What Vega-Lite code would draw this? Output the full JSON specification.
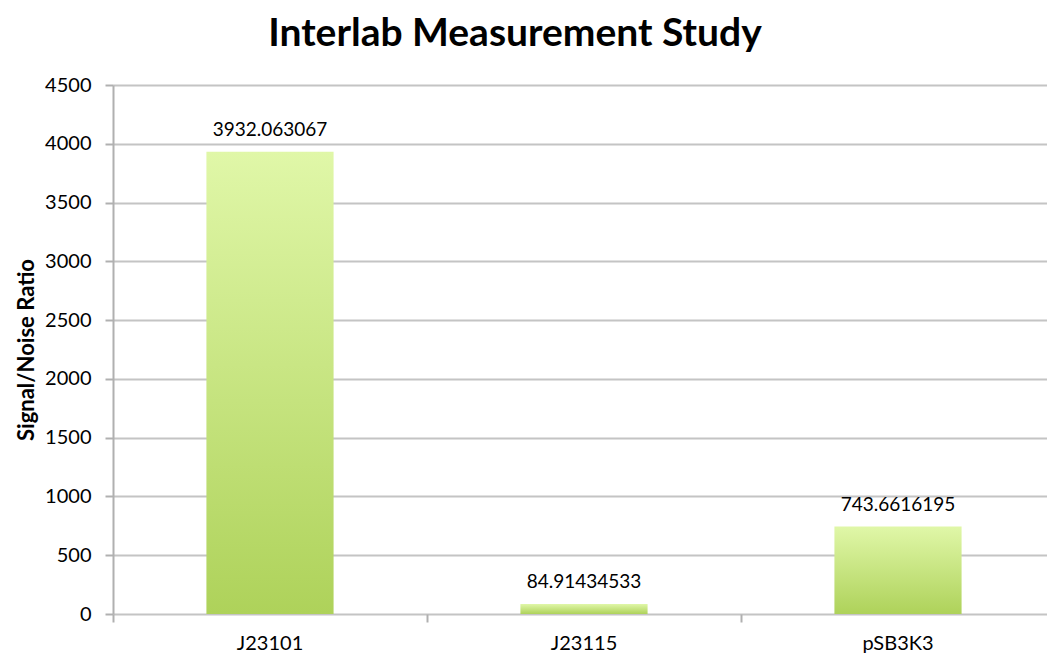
{
  "$schema": "https://vega.github.io/schema/vega-lite/v6.json",
  "autosize": "none",
  "width": 942,
  "height": 529,
  "padding": {"left": 113, "top": 85, "right": 0, "bottom": 47},
  "background": "white",
  "title": {
    "text": "Interlab Measurement Study",
    "font": "Lato",
    "fontSize": 39,
    "fontWeight": "bold",
    "color": "#000000",
    "anchor": "middle",
    "dx": -69,
    "offset": 21
  },
  "data": {
    "values": [
      {"construct": "J23101", "ratio": 3932.063067, "label": "3932.063067"},
      {"construct": "J23115", "ratio": 84.91434533, "label": "84.91434533"},
      {"construct": "pSB3K3", "ratio": 743.6616195, "label": "743.6616195"}
    ]
  },
  "config": {
    "view": {"stroke": null},
    "font": "Lato"
  },
  "encoding": {
    "x": {
      "field": "construct",
      "type": "nominal",
      "sort": null,
      "scale": {"paddingInner": 0, "paddingOuter": 0},
      "axis": {
        "title": null,
        "labelAngle": 0,
        "labelFont": "Lato",
        "labelFontSize": 20,
        "labelColor": "#000000",
        "labelPadding": 11,
        "bandPosition": 0,
        "domain": false,
        "ticks": true,
        "tickColor": "#b0b0b0",
        "tickWidth": 2,
        "tickSize": 8,
        "grid": false
      }
    }
  },
  "layer": [
    {
      "mark": {
        "type": "bar",
        "width": {"band": 0.405},
        "color": {
          "gradient": "linear",
          "x1": 0, "y1": 0, "x2": 0, "y2": 1,
          "stops": [
            {"offset": 0, "color": "#e0f7a8"},
            {"offset": 1, "color": "#aed25a"}
          ]
        }
      },
      "encoding": {
        "y": {
          "field": "ratio",
          "type": "quantitative",
          "scale": {"domain": [0, 4500], "nice": false},
          "axis": {
            "title": "Signal/Noise Ratio",
            "titleFont": "Lato",
            "titleFontSize": 22,
            "titleFontWeight": "bold",
            "titleColor": "#000000",
            "titlePadding": 6,
            "values": [0, 500, 1000, 1500, 2000, 2500, 3000, 3500, 4000, 4500],
            "format": "d",
            "labelFont": "Lato",
            "labelFontSize": 20,
            "labelColor": "#000000",
            "labelPadding": 14,
            "grid": true,
            "gridColor": "#c4c4c4",
            "gridWidth": 2,
            "domain": true,
            "domainColor": "#b0b0b0",
            "domainWidth": 2,
            "ticks": true,
            "tickColor": "#b0b0b0",
            "tickWidth": 2,
            "tickSize": 8
          }
        }
      }
    },
    {
      "mark": {
        "type": "text",
        "baseline": "bottom",
        "dy": -12,
        "font": "Lato",
        "fontSize": 19,
        "color": "#000000"
      },
      "encoding": {
        "y": {"field": "ratio", "type": "quantitative"},
        "text": {"field": "label", "type": "nominal"}
      }
    }
  ]
}
